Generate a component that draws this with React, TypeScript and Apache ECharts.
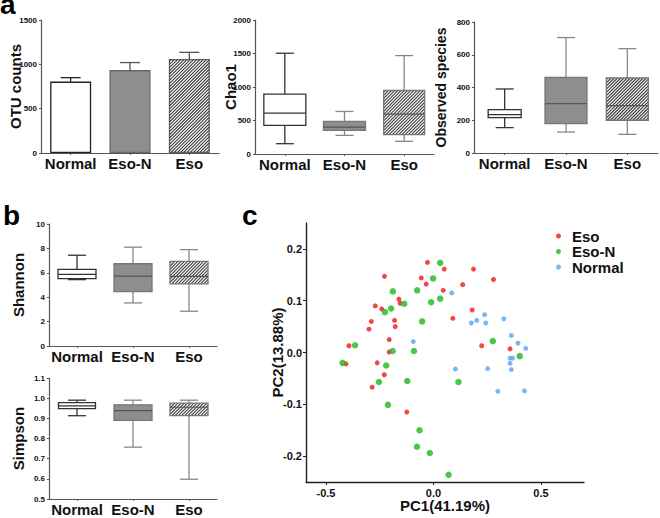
import React, { useEffect, useRef } from "react";
import * as echarts from "echarts";

const groups = ["Normal", "Eso-N", "Eso"];
const otuMean = [805, 935, 1060];
const otuUpper = [850, 1020, 1135];
// [min, Q1, median, Q3, max]
const chao1Box = [
  [154, 427, 610, 893, 1504],
  [278, 352, 402, 486, 635],
  [189, 288, 596, 948, 1469],
];
const observedBox = [
  [155, 216, 234, 265, 391],
  [128, 179, 301, 462, 705],
  [114, 200, 289, 458, 637],
];
const shannonBox = [
  [5.44, 5.52, 5.87, 6.28, 7.44],
  [3.53, 4.46, 5.73, 6.74, 8.1],
  [2.85, 5.1, 5.7, 6.93, 7.9],
];
const simpsonBox = [
  [0.913, 0.948, 0.962, 0.978, 0.99],
  [0.757, 0.89, 0.938, 0.967, 0.99],
  [0.598, 0.913, 0.955, 0.975, 0.99],
];
const pcaSeriesNames = ["Eso", "Eso-N", "Normal"];
const esoPC = [
  [-0.028, 0.174], [-0.228, 0.147], [-0.057, 0.144], [0.05, 0.161], [-0.034, 0.132],
  [0.045, 0.12], [0.186, 0.161], [0.279, 0.141], [0.136, 0.131], [-0.161, 0.103],
  [-0.155, 0.095], [-0.271, 0.09], [-0.241, 0.084], [-0.181, 0.062], [-0.289, 0.06],
  [-0.178, 0.05], [-0.3, 0.045], [-0.206, 0.025], [-0.393, 0.013], [-0.206, 0.001],
  [-0.407, -0.022], [-0.262, -0.02], [-0.229, -0.043], [-0.285, -0.067], [-0.124, -0.115],
  [0.09, 0.066], [0.18, 0.082], [0.224, 0.013], [0.356, 0.007],
];
const esoNPC = [
  [0.031, 0.173], [-0.002, 0.143], [-0.189, 0.118], [-0.076, 0.12], [0.031, 0.104],
  [-0.011, 0.097], [-0.136, 0.094], [-0.197, 0.085], [-0.226, 0.078], [-0.053, 0.06],
  [-0.365, 0.014], [-0.19, 0.003], [-0.091, 0.003], [-0.423, -0.02], [-0.22, -0.025],
  [-0.254, -0.057], [-0.122, -0.055], [0.116, -0.057], [-0.212, -0.101], [-0.065, -0.15],
  [-0.077, -0.182], [-0.017, -0.194], [0.07, -0.236], [0.276, 0.022], [0.401, -0.007],
];
const normalPC = [
  [0.085, 0.115], [0.238, 0.073], [0.201, 0.062], [0.176, 0.057], [0.243, 0.057],
  [0.327, 0.065], [0.362, 0.033], [0.393, 0.018], [0.429, 0.008], [0.356, -0.011],
  [0.368, -0.011], [0.356, -0.021], [0.362, -0.033], [-0.094, 0.021], [0.102, -0.032],
  [0.252, -0.031], [0.299, -0.075], [0.423, -0.074],
];
const pcXTicks = [-0.5, 0, 0.5];
const pcYTicks = [-0.2, -0.1, 0, 0.1, 0.2];

const FONT = "Arial, 'Liberation Sans', Helvetica, sans-serif";
const fills = ["#ffffff", "#8e8e8e", "#ffffff"];
const strokes = ["#333333", "#777777", "#777777"];
const whiskers = ["#333333", "#888888", "#888888"];

// diagonal "/" hatch lines clipped to a rectangle
function hatchLines(x0: number, y0: number, x1: number, y1: number, step: number) {
  const out: any[] = [];
  const st = { stroke: "#3c3c3c", lineWidth: 1.1 };
  for (let c = x0 + y0 + step / 2; c < x1 + y1; c += step) {
    const xa = Math.max(x0, c - y1);
    const xb = Math.min(x1, c - y0);
    if (xb <= xa) continue;
    out.push({ type: "line", shape: { x1: xa, y1: c - xa, x2: xb, y2: c - xb }, style: st, silent: true });
  }
  return out;
}

export default function App() {
  const ref = useRef<HTMLDivElement>(null);
  useEffect(() => {
    if (!ref.current) return;
    const chart = echarts.init(ref.current, null, { renderer: "svg" });

    const boxRender = (widths: number[]) => (params: any, api: any) => {
      const i = params.dataIndex;
      const x = api.value(0);
      const p = [1, 2, 3, 4, 5].map((k) => api.coord([x, api.value(k)]));
      const cx = p[0][0];
      const bw = widths[i];
      const cw = 18;
      const wl = { stroke: whiskers[i], lineWidth: 1.3 };
      const bx0 = cx - bw / 2;
      const bx1 = cx + bw / 2;
      const children: any[] = [
        { type: "line", shape: { x1: cx, y1: p[4][1], x2: cx, y2: p[3][1] }, style: wl },
        { type: "line", shape: { x1: cx, y1: p[0][1], x2: cx, y2: p[1][1] }, style: wl },
        { type: "line", shape: { x1: cx - cw / 2, y1: p[4][1], x2: cx + cw / 2, y2: p[4][1] }, style: wl },
        { type: "line", shape: { x1: cx - cw / 2, y1: p[0][1], x2: cx + cw / 2, y2: p[0][1] }, style: wl },
        {
          type: "rect",
          shape: { x: bx0, y: p[3][1], width: bw, height: p[1][1] - p[3][1] },
          style: { fill: fills[i], stroke: "none" },
        },
      ];
      if (i === 2) children.push(...hatchLines(bx0, p[3][1], bx1, p[1][1], 3.2));
      children.push({
        type: "rect",
        shape: { x: bx0, y: p[3][1], width: bw, height: p[1][1] - p[3][1] },
        style: { fill: "none", stroke: strokes[i], lineWidth: 1.3 },
      });
      children.push({
        type: "line",
        shape: { x1: bx0, y1: p[2][1], x2: bx1, y2: p[2][1] },
        style: { stroke: i === 0 ? "#333333" : "#555555", lineWidth: 1.2 },
      });
      return { type: "group", children };
    };

    const BAR_W = 41;
    const errRender = (params: any, api: any) => {
      const i = params.dataIndex;
      const x = api.value(0);
      const base = api.coord([x, 0]);
      const a = api.coord([x, api.value(1)]);
      const b = api.coord([x, api.value(2)]);
      const st = { stroke: i === 0 ? "#222222" : "#555555", lineWidth: 1.3 };
      const children: any[] = [];
      if (i === 2) {
        children.push(...hatchLines(a[0] - BAR_W / 2 + 0.6, a[1] + 0.6, a[0] + BAR_W / 2 - 0.6, base[1] - 0.6, 3.2));
      }
      children.push({ type: "line", shape: { x1: a[0], y1: a[1], x2: b[0], y2: b[1] }, style: st });
      children.push({ type: "line", shape: { x1: b[0] - 10, y1: b[1], x2: b[0] + 10, y2: b[1] }, style: st });
      return { type: "group", children };
    };

    const grids = [
      { left: 41, top: 20, width: 178, height: 133 },
      { left: 255, top: 20, width: 179, height: 134 },
      { left: 474, top: 22, width: 184, height: 131 },
      { left: 49, top: 224, width: 168, height: 122 },
      { left: 49, top: 378, width: 168, height: 121 },
      { left: 306, top: 223, width: 278, height: 262 },
    ];

    const catAxis = (gi: number) => ({
      type: "category",
      gridIndex: gi,
      data: groups,
      axisLine: { lineStyle: { color: "#555", width: 1.2 } },
      axisTick: { show: true, alignWithLabel: true, length: 2, lineStyle: { color: "#555" } },
      axisLabel: { interval: 0, fontSize: 15, fontWeight: "bold", color: "#111", margin: 3, fontFamily: FONT },
    });
    const valAxis = (gi: number, min: number, max: number, interval: number, name: string, nameGap: number, fmt: (v: number) => string, nameSize = 15) => ({
      type: "value",
      gridIndex: gi,
      min,
      max,
      interval,
      name,
      nameLocation: "middle",
      nameGap,
      nameMoveOverlap: false,
      nameTextStyle: { fontSize: nameSize, fontWeight: "bold", color: "#111", fontFamily: FONT },
      axisLine: { show: true, lineStyle: { color: "#555", width: 1.2 } },
      axisTick: { show: true, length: 2, lineStyle: { color: "#555" } },
      axisLabel: { fontSize: 8, fontWeight: "bold", color: "#111", margin: 4, fontFamily: FONT, formatter: fmt },
      splitLine: { show: false },
    });
    const intFmt = (v: number) => String(Math.round(v));
    const oneFmt = (v: number) => v.toFixed(1);

    const option: any = {
      animation: false,
      backgroundColor: "#ffffff",
      textStyle: { fontFamily: FONT },
      grid: grids,
      xAxis: [
        catAxis(0),
        catAxis(1),
        catAxis(2),
        catAxis(3),
        catAxis(4),
        {
          type: "value",
          gridIndex: 5,
          min: -0.593,
          max: 0.7,
          name: "PC1(41.19%)",
          nameLocation: "middle",
          nameGap: 16,
          nameMoveOverlap: false,
          nameTextStyle: { fontSize: 15, fontWeight: "bold", color: "#111", fontFamily: FONT },
          axisLine: { onZero: false, lineStyle: { color: "#222", width: 1.4 } },
          axisTick: { show: true, length: 3, customValues: pcXTicks, lineStyle: { color: "#222" } },
          axisLabel: {
            customValues: pcXTicks,
            fontSize: 11,
            fontWeight: "bold",
            color: "#111",
            margin: 5,
            fontFamily: FONT,
            formatter: oneFmt,
          },
          splitLine: { show: false },
        },
      ],
      yAxis: [
        valAxis(0, 0, 1500, 500, "OTU counts", 18.5, intFmt),
        valAxis(1, 0, 2000, 500, "Chao1", 17.5, intFmt),
        valAxis(2, 0, 800, 200, "Observed species", 26.5, intFmt, 14),
        valAxis(3, 0, 10, 2, "Shannon", 23.5, intFmt),
        valAxis(4, 0.5, 1.1, 0.1, "Simpson", 23.5, oneFmt),
        {
          type: "value",
          gridIndex: 5,
          min: -0.25,
          max: 0.25,
          name: "PC2(13.88%)",
          nameLocation: "middle",
          nameGap: 21.5,
          nameMoveOverlap: false,
          nameTextStyle: { fontSize: 15, fontWeight: "bold", color: "#111", fontFamily: FONT },
          axisLine: { show: true, onZero: false, lineStyle: { color: "#222", width: 1.4 } },
          axisTick: { show: true, length: 3, customValues: pcYTicks, lineStyle: { color: "#222" } },
          axisLabel: {
            customValues: pcYTicks,
            fontSize: 11,
            fontWeight: "bold",
            color: "#111",
            margin: 4,
            fontFamily: FONT,
            formatter: oneFmt,
          },
          splitLine: { show: false },
        },
      ],
      legend: {
        data: pcaSeriesNames,
        orient: "vertical",
        left: 556,
        top: 228.5,
        padding: 0,
        itemGap: 0.5,
        itemWidth: 5,
        itemHeight: 5,
        icon: "circle",
        textStyle: { fontSize: 15, fontWeight: "bold", color: "#111", lineHeight: 15, padding: [0, 0, 0, 6], fontFamily: FONT },
      },
      graphic: [
        { type: "text", x: 0, y: 4.5, style: { text: "a", fontSize: 28, fontWeight: "bold", fill: "#000", fontFamily: FONT, verticalAlign: "middle" } },
        { type: "text", x: 3, y: 215, style: { text: "b", fontSize: 28, fontWeight: "bold", fill: "#000", fontFamily: FONT, verticalAlign: "middle" } },
        { type: "text", x: 242, y: 215, style: { text: "c", fontSize: 28, fontWeight: "bold", fill: "#000", fontFamily: FONT, verticalAlign: "middle" } },
      ],
      series: [
        {
          type: "bar",
          xAxisIndex: 0,
          yAxisIndex: 0,
          barWidth: BAR_W,
          z: 2,
          data: otuMean.map((v, i) => ({
            value: v,
            itemStyle: { color: fills[i], borderColor: i === 0 ? "#222222" : "#666666", borderWidth: 1.3 },
          })),
        },
        {
          type: "custom",
          xAxisIndex: 0,
          yAxisIndex: 0,
          z: 5,
          renderItem: errRender,
          encode: { x: 0, y: [1, 2] },
          data: otuMean.map((v, i) => [i, v, otuUpper[i]]),
        },
        {
          type: "custom",
          xAxisIndex: 1,
          yAxisIndex: 1,
          renderItem: boxRender([42, 42, 41]),
          encode: { x: 0, y: [1, 2, 3, 4, 5] },
          data: chao1Box.map((b, i) => [i, ...b]),
        },
        {
          type: "custom",
          xAxisIndex: 2,
          yAxisIndex: 2,
          renderItem: boxRender([33, 42, 42]),
          encode: { x: 0, y: [1, 2, 3, 4, 5] },
          data: observedBox.map((b, i) => [i, ...b]),
        },
        {
          type: "custom",
          xAxisIndex: 3,
          yAxisIndex: 3,
          renderItem: boxRender([38, 38, 38]),
          encode: { x: 0, y: [1, 2, 3, 4, 5] },
          data: shannonBox.map((b, i) => [i, ...b]),
        },
        {
          type: "custom",
          xAxisIndex: 4,
          yAxisIndex: 4,
          renderItem: boxRender([37, 38, 38]),
          encode: { x: 0, y: [1, 2, 3, 4, 5] },
          data: simpsonBox.map((b, i) => [i, ...b]),
        },
        {
          name: "Eso",
          type: "scatter",
          xAxisIndex: 5,
          yAxisIndex: 5,
          symbolSize: 5,
          itemStyle: { color: "#f01818" },
          data: esoPC,
        },
        {
          name: "Eso-N",
          type: "scatter",
          xAxisIndex: 5,
          yAxisIndex: 5,
          symbolSize: 6.5,
          itemStyle: { color: "#1eb81e" },
          data: esoNPC,
        },
        {
          name: "Normal",
          type: "scatter",
          xAxisIndex: 5,
          yAxisIndex: 5,
          symbolSize: 5,
          itemStyle: { color: "#5fa2f0" },
          data: normalPC,
        },
      ],
    };
    chart.setOption(option);
    return () => chart.dispose();
  }, []);
  return <div ref={ref} style={{ position: "absolute", left: 0, top: 0, width: 660, height: 518 }} />;
}
